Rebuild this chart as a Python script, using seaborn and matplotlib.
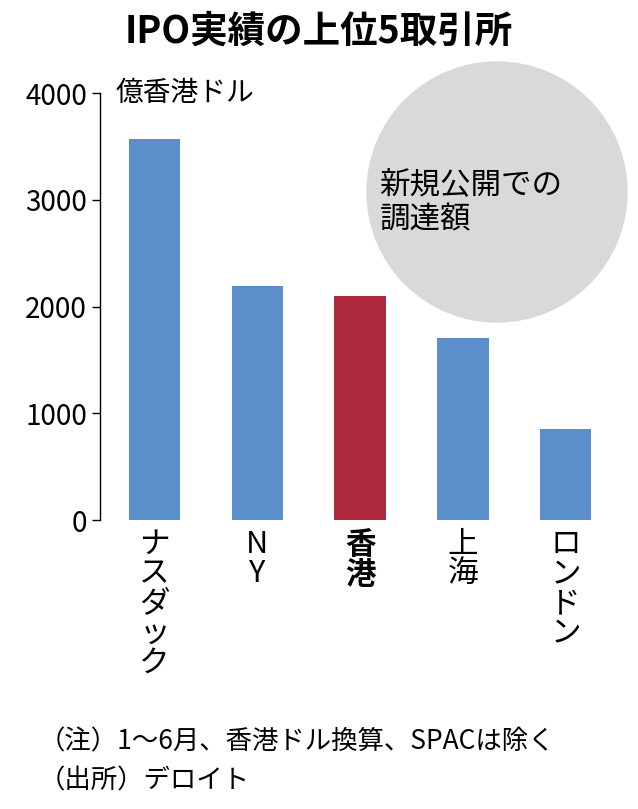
import matplotlib
matplotlib.use("Agg")
import matplotlib.pyplot as plt
import seaborn as sns
from matplotlib.patches import Circle

plt.rcParams["font.family"] = "Noto Sans CJK JP"

exchanges = ["ナスダック", "NY", "香港", "上海", "ロンドン"]
amounts = [3570, 2190, 2095, 1705, 850]
colors = ["#5b8fcb", "#5b8fcb", "#ad2a3e", "#5b8fcb", "#5b8fcb"]
yticks = [0, 1000, 2000, 3000, 4000]

fig = plt.figure(figsize=(6.38, 8.09), dpi=100)
ax = fig.add_axes([0.157, 0.357, 0.81, 0.528])

# gray circle behind bars
circ = Circle((4.97, 6.17), 1.30, transform=fig.dpi_scale_trans, color="#d9d9d9", zorder=0)
fig.patches.append(circ)
ax.set_facecolor("none")

sns.barplot(x=list(range(len(exchanges))), y=amounts, hue=list(range(len(exchanges))),
            palette=colors, legend=False, width=0.5, ax=ax, saturation=1)

ax.set_xlim(-0.53, 4.5)
ax.set_ylim(0, 4000)
ax.set_yticks(yticks)
ax.set_yticklabels([str(t) for t in yticks], fontsize=20)
ax.set_xticks(range(len(exchanges)))
labels = ["\n".join(list(e)) if e != "NY" else "N\nY" for e in exchanges]
ax.set_xticklabels(labels, fontsize=22, va="top", linespacing=0.95)
for lbl, e in zip(ax.get_xticklabels(), exchanges):
    if e == "香港":
        lbl.set_fontweight("bold")
ax.tick_params(axis="x", length=0, pad=6)
ax.tick_params(axis="y", length=6, width=1, direction="out")
for s in ["top", "right", "bottom"]:
    ax.spines[s].set_visible(False)
ax.spines["left"].set_linewidth(1)

ax.text(0.03, 1.0, "億香港ドル", transform=ax.transAxes, fontsize=20, va="center", ha="left")

fig.text(0.5, 0.962, "IPO実績の上位5取引所", fontsize=27, fontweight="bold", ha="center", va="center")
fig.text(0.595, 0.75, "新規公開での\n調達額", fontsize=22, ha="left", va="center", linespacing=1.15)
fig.text(0.06, 0.083, "（注）1～6月、香港ドル換算、SPACは除く", fontsize=19, ha="left", va="center")
fig.text(0.06, 0.035, "（出所）デロイト", fontsize=19, ha="left", va="center")

fig.savefig("out.png", dpi=100)
